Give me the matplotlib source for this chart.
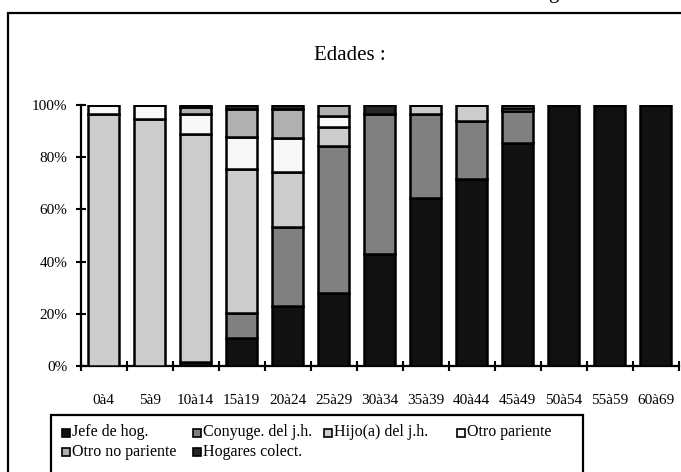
import numpy as np
import matplotlib
matplotlib.use("Agg")
import matplotlib.pyplot as plt
from matplotlib.patches import Rectangle

plt.rcParams['font.family'] = ['Liberation Serif', 'DejaVu Serif']

edades = ['0à4', '5à9', '10à14', '15à19', '20à24', '25à29', '30à34',
          '35à39', '40à44', '45à49', '50à54', '55à59', '60à69']
jefe     = [0.0, 0.0, 1.6, 10.8, 23.1, 27.8, 42.9, 64.5, 71.6, 85.3, 100, 100, 100]
conyuge  = [0.0, 0.0, 0.0, 9.4, 30.3, 56.6, 53.7, 32.1, 22.4, 12.4, 0, 0, 0]
hijo     = [96.6, 94.6, 87.3, 55.2, 20.8, 7.3, 0.0, 3.4, 6.0, 1.3, 0, 0, 0]
otro_par = [3.4, 5.4, 7.7, 12.5, 13.0, 4.2, 0.0, 0.0, 0.0, 1.0, 0, 0, 0]
otro_no  = [0.0, 0.0, 2.8, 10.4, 11.1, 4.1, 0.0, 0.0, 0.0, 0.0, 0, 0, 0]
hogares  = [0.0, 0.0, 0.6, 1.7, 1.7, 0.0, 3.4, 0.0, 0.0, 0.0, 0, 0, 0]

series = [
    ("Jefe de hog.", jefe, '#111111'),
    ("Conyuge. del j.h.", conyuge, '#808080'),
    ("Hijo(a) del j.h.", hijo, '#cccccc'),
    ("Otro pariente", otro_par, '#f8f8f8'),
    ("Otro no pariente", otro_no, '#b0b0b0'),
    ("Hogares colect.", hogares, '#262626'),
]

W, H = 681, 472
fig = plt.figure(figsize=(W / 100, H / 100), dpi=100)

# marco exterior (cortado a la derecha y abajo)
fig.patches.append(Rectangle((8 / W, -0.1), 1.2, 1 - 13 / H + 0.1, transform=fig.transFigure,
                             fill=False, edgecolor='black', linewidth=1.6))
# resto del titulo de la pagina, cortado arriba como en el original
fig.text(553 / W, 1 + 2 / H, "g", fontsize=15, ha='center', va='baseline')

ax = fig.add_axes([80.7 / W, 1 - 366 / H, 598 / W, 261 / H])
x = np.arange(len(edades))
base = np.zeros(len(edades))
for nombre, vals, color in series:
    v = np.array(vals) / 100
    ax.bar(x, v, bottom=base, width=0.67, color=color, edgecolor='black', linewidth=1.8, zorder=3)
    base += v

ax.set_xlim(-0.5, len(edades) - 0.5)
ax.set_ylim(0, 1)
ax.set_yticks(np.linspace(0, 1, 6))
ax.set_yticklabels([f"{int(round(t * 100))}%" for t in np.linspace(0, 1, 6)], fontsize=11)
ax.set_xticks(x)
ax.set_xticklabels(edades, fontsize=11)
ax.set_xticks(np.arange(-0.5, len(edades)), minor=True)
ax.tick_params(axis='x', which='major', length=0, pad=20)
ax.tick_params(axis='x', which='minor', direction='inout', length=7, width=1.5)
ax.tick_params(axis='y', direction='inout', length=7, width=1.5, pad=6)
for s in ['top', 'right']:
    ax.spines[s].set_visible(False)
for s in ['left', 'bottom']:
    ax.spines[s].set_linewidth(1.6)
ax.set_facecolor('none')

fig.text(350 / W, 1 - 55 / H, "Edades :", fontsize=15, ha='center', va='center')

# leyenda dibujada a mano
fig.patches.append(Rectangle((51 / W, -0.1), 532 / W, 1 - 415 / H + 0.1, transform=fig.transFigure,
                             fill=False, edgecolor='black', linewidth=1.6))
col_x = [62, 193, 324, 457]
row_y = [432.5, 451.5]
for i, (nombre, vals, color) in enumerate(series):
    cx = col_x[i % 4]
    cy = row_y[i // 4]
    fig.patches.append(Rectangle((cx / W, 1 - (cy + 4) / H), 8 / W, 8 / H,
                                 transform=fig.transFigure, facecolor=color,
                                 edgecolor='black', linewidth=1.2))
    fig.text((cx + 10) / W, 1 - cy / H, nombre, fontsize=11.5, ha='left', va='center')

fig.savefig("out.png", dpi=100)
